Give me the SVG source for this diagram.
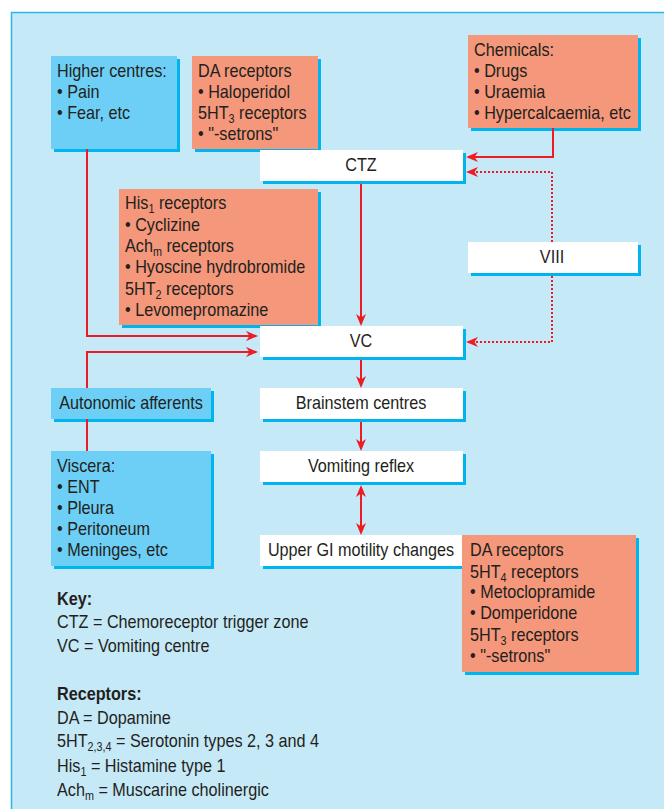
<svg xmlns="http://www.w3.org/2000/svg" width="664" height="809" viewBox="0 0 664 809">
<defs>
<style>
.t{font-family:"Liberation Sans",Arial,sans-serif;font-size:18px;fill:#231f20}
.b{font-weight:bold}
.c{text-anchor:middle}
.sub{font-size:12px}
.sh{fill:#00b4ee}
.blue{fill:#6dcff6}
.sal{fill:#f4977a}
.wh{fill:#ffffff}
.ln{fill:none;stroke:#ed1c24;stroke-width:2}
.dot{stroke-dasharray:2 2}
</style>
<marker id="ah" viewBox="0 0 12 10" refX="10" refY="5" markerWidth="12" markerHeight="10" markerUnits="userSpaceOnUse" orient="auto-start-reverse">
<path d="M0,0 L12,5 L0,10 L3.5,5 Z" fill="#ed1c24"/>
</marker>
</defs>
<rect x="0" y="0" width="664" height="809" fill="#ffffff"/>
<rect x="11.5" y="12.5" width="700" height="900" fill="#c6e9f8" stroke="#29b6ef" stroke-width="1.5"/>

<g id="n-higher">
<rect class="sh" x="54" y="59" width="126" height="93"/>
<rect class="blue" x="51" y="56" width="126" height="93"/>
<text class="t" transform="matrix(.9 0 0 1 57 77)">Higher centres:</text>
<text class="t" transform="matrix(.9 0 0 1 57 98)">• Pain</text>
<text class="t" transform="matrix(.9 0 0 1 57 119)">• Fear, etc</text>
</g>

<g id="n-da-top">
<rect class="sh" x="195" y="59" width="126" height="93"/>
<rect class="sal" x="192" y="56" width="126" height="93"/>
<text class="t" transform="matrix(.9 0 0 1 198 77)">DA receptors</text>
<text class="t" transform="matrix(.9 0 0 1 198 98)">• Haloperidol</text>
<text class="t" transform="matrix(.9 0 0 1 198 119)">5HT<tspan class="sub" dy="4">3</tspan><tspan dy="-4"> receptors</tspan></text>
<text class="t" transform="matrix(.9 0 0 1 198 140)">• "-setrons"</text>
</g>

<g id="n-chem">
<rect class="sh" x="471" y="38" width="170" height="93"/>
<rect class="sal" x="468" y="35" width="170" height="93"/>
<text class="t" transform="matrix(.9 0 0 1 474 56)">Chemicals:</text>
<text class="t" transform="matrix(.9 0 0 1 474 77)">• Drugs</text>
<text class="t" transform="matrix(.9 0 0 1 474 98)">• Uraemia</text>
<text class="t" transform="matrix(.9 0 0 1 474 119)">• Hypercalcaemia, etc</text>
</g>

<g id="n-ctz">
<rect class="sh" x="263" y="153" width="203" height="31"/>
<rect class="wh" x="260" y="150" width="203" height="31"/>
<text class="t c" transform="matrix(.9 0 0 1 361 171)">CTZ</text>
</g>

<g id="n-his">
<rect class="sh" x="122" y="192" width="199" height="136"/>
<rect class="sal" x="119" y="189" width="199" height="136"/>
<text class="t" transform="matrix(.9 0 0 1 125 209)">His<tspan class="sub" dy="4">1</tspan><tspan dy="-4"> receptors</tspan></text>
<text class="t" transform="matrix(.9 0 0 1 125 231)">• Cyclizine</text>
<text class="t" transform="matrix(.9 0 0 1 125 252)">Ach<tspan class="sub" dy="4">m</tspan><tspan dy="-4"> receptors</tspan></text>
<text class="t" transform="matrix(.9 0 0 1 125 273)">• Hyoscine hydrobromide</text>
<text class="t" transform="matrix(.9 0 0 1 125 295)">5HT<tspan class="sub" dy="4">2</tspan><tspan dy="-4"> receptors</tspan></text>
<text class="t" transform="matrix(.9 0 0 1 125 316)">• Levomepromazine</text>
</g>

<g id="n-viii">
<rect class="sh" x="471" y="245" width="170" height="31"/>
<rect class="wh" x="468" y="242" width="170" height="31"/>
<text class="t c" transform="matrix(.9 0 0 1 552 263)">VIII</text>
</g>

<g id="n-vc">
<rect class="sh" x="263" y="329" width="203" height="31"/>
<rect class="wh" x="260" y="326" width="203" height="31"/>
<text class="t c" transform="matrix(.9 0 0 1 361 347)">VC</text>
</g>

<g id="n-auto">
<rect class="sh" x="54" y="391" width="160" height="31"/>
<rect class="blue" x="51" y="388" width="160" height="31"/>
<text class="t c" transform="matrix(.9 0 0 1 131 409)">Autonomic afferents</text>
</g>

<g id="n-brain">
<rect class="sh" x="263" y="391" width="203" height="31"/>
<rect class="wh" x="260" y="388" width="203" height="31"/>
<text class="t c" transform="matrix(.9 0 0 1 361 409)">Brainstem centres</text>
</g>

<g id="n-viscera">
<rect class="sh" x="54" y="454" width="160" height="115"/>
<rect class="blue" x="51" y="451" width="160" height="115"/>
<text class="t" transform="matrix(.9 0 0 1 57 472)">Viscera:</text>
<text class="t" transform="matrix(.9 0 0 1 57 493)">• ENT</text>
<text class="t" transform="matrix(.9 0 0 1 57 514)">• Pleura</text>
<text class="t" transform="matrix(.9 0 0 1 57 535)">• Peritoneum</text>
<text class="t" transform="matrix(.9 0 0 1 57 556)">• Meninges, etc</text>
</g>

<g id="n-vomit">
<rect class="sh" x="263" y="454" width="203" height="31"/>
<rect class="wh" x="260" y="451" width="203" height="31"/>
<text class="t c" transform="matrix(.9 0 0 1 361 472)">Vomiting reflex</text>
</g>

<g id="n-gi">
<rect class="sh" x="263" y="538" width="203" height="31"/>
<rect class="wh" x="260" y="535" width="203" height="31"/>
<text class="t c" transform="matrix(.9 0 0 1 361 556)">Upper GI motility changes</text>
</g>

<g id="n-da-bottom">
<rect class="sh" x="465" y="538" width="174" height="137"/>
<rect class="sal" x="462" y="535" width="174" height="137"/>
<text class="t" transform="matrix(.9 0 0 1 470 556)">DA receptors</text>
<text class="t" transform="matrix(.9 0 0 1 470 578)">5HT<tspan class="sub" dy="4">4</tspan><tspan dy="-4"> receptors</tspan></text>
<text class="t" transform="matrix(.9 0 0 1 470 598)">• Metoclopramide</text>
<text class="t" transform="matrix(.9 0 0 1 470 619)">• Domperidone</text>
<text class="t" transform="matrix(.9 0 0 1 470 641)">5HT<tspan class="sub" dy="4">3</tspan><tspan dy="-4"> receptors</tspan></text>
<text class="t" transform="matrix(.9 0 0 1 470 662)">• "-setrons"</text>
</g>

<g id="key">
<text class="t b" transform="matrix(.9 0 0 1 57 605)">Key:</text>
<text class="t" transform="matrix(.9 0 0 1 57 628)">CTZ = Chemoreceptor trigger zone</text>
<text class="t" transform="matrix(.9 0 0 1 57 652)">VC = Vomiting centre</text>
<text class="t b" transform="matrix(.9 0 0 1 57 700)">Receptors:</text>
<text class="t" transform="matrix(.9 0 0 1 57 724)">DA = Dopamine</text>
<text class="t" transform="matrix(.9 0 0 1 57 747)">5HT<tspan class="sub" dy="4">2,3,4</tspan><tspan dy="-4"> = Serotonin types 2, 3 and 4</tspan></text>
<text class="t" transform="matrix(.9 0 0 1 57 772)">His<tspan class="sub" dy="4">1</tspan><tspan dy="-4"> = Histamine type 1</tspan></text>
<text class="t" transform="matrix(.9 0 0 1 57 796)">Ach<tspan class="sub" dy="4">m</tspan><tspan dy="-4"> = Muscarine cholinergic</tspan></text>
</g>

<g id="connectors">
<path class="ln" d="M87,149 V336 H256" marker-end="url(#ah)"/>
<path class="ln" d="M87,388 V352 H256" marker-end="url(#ah)"/>
<path class="ln" d="M87,419 V451"/>
<path class="ln" d="M553,128 V157 H468" marker-end="url(#ah)"/>
<path class="ln dot" d="M552,242 V172 H468" marker-end="url(#ah)"/>
<path class="ln dot" d="M552,276 V342 H468" marker-end="url(#ah)"/>
<path class="ln" d="M361,184 V324" marker-end="url(#ah)"/>
<path class="ln" d="M361,360 V386" marker-end="url(#ah)"/>
<path class="ln" d="M361,422 V449" marker-end="url(#ah)"/>
<path class="ln" d="M361,487 V533" marker-start="url(#ah)" marker-end="url(#ah)"/>
</g>
</svg>
